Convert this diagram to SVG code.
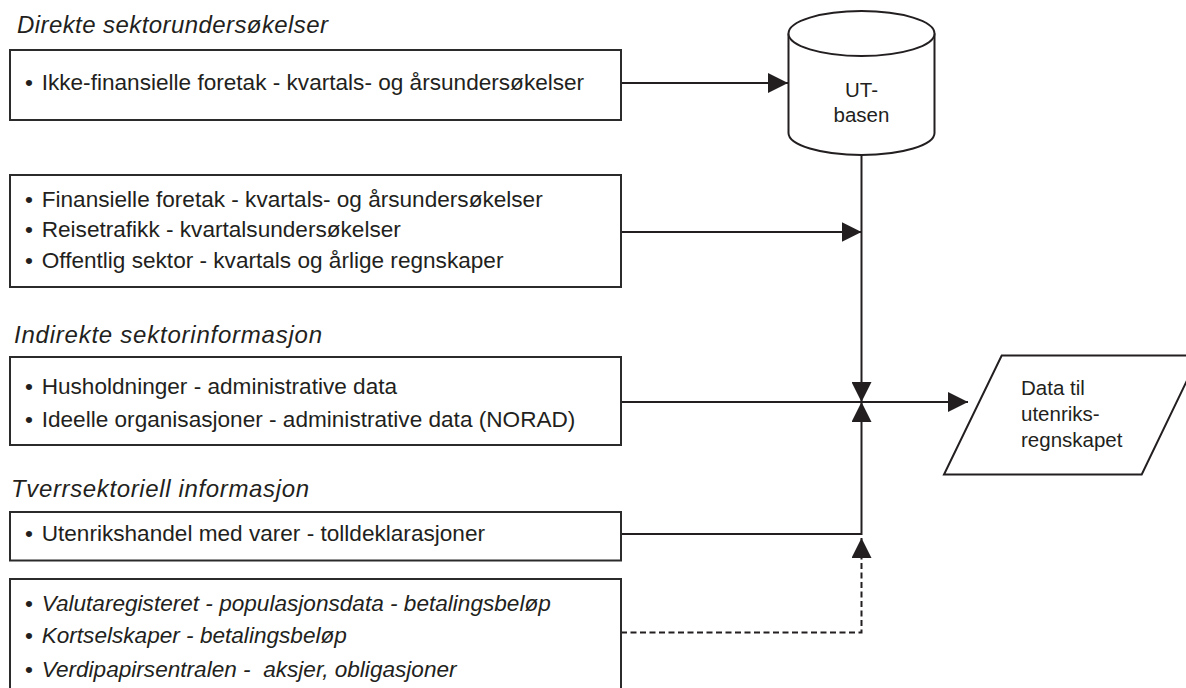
<svg xmlns="http://www.w3.org/2000/svg" width="1186" height="688" viewBox="0 0 1186 688">
<style>
.box{fill:#fff;stroke:#2b2b2b;stroke-width:2}
.shape{fill:#fff;stroke:#231f20;stroke-width:2}
.t{font-family:"Liberation Sans",Arial,sans-serif;font-size:22.6px;fill:#231f20}
.ti{font-family:"Liberation Sans",Arial,sans-serif;font-size:22.6px;font-style:italic;fill:#231f20}
.h{font-family:"Liberation Sans",Arial,sans-serif;font-size:24px;font-style:italic;fill:#231f20}
.s{font-family:"Liberation Sans",Arial,sans-serif;font-size:20.5px;fill:#231f20}
.ln{fill:none;stroke:#231f20;stroke-width:2}
.dash{stroke-dasharray:6 3.5}
</style>
<defs>
<marker id="ah" viewBox="0 0 20 20" refX="20" refY="10" markerWidth="20" markerHeight="20" markerUnits="userSpaceOnUse" orient="auto">
<path d="M0,0 L20,10 L0,20 Z" fill="#231f20"/>
</marker>
</defs>
<rect width="1186" height="688" fill="#fff"/>

<g id="headings">
<text class="h" x="17" y="33" textLength="311">Direkte sektorundersøkelser</text>
<text class="h" x="14" y="343" textLength="308">Indirekte sektorinformasjon</text>
<text class="h" x="11" y="497" textLength="298">Tverrsektoriell informasjon</text>
</g>

<g id="connectors">
<path class="ln" d="M621,83 H788" marker-end="url(#ah)"/>
<path class="ln" d="M861.5,155 V402" marker-end="url(#ah)"/>
<path class="ln" d="M621,232 H861.5" marker-end="url(#ah)"/>
<path class="ln" d="M621,402 H968" marker-end="url(#ah)"/>
<path class="ln" d="M621,534 H861.5 V402" marker-end="url(#ah)"/>
<path class="ln dash" d="M621,632.5 H861.5 V538" marker-end="url(#ah)"/>
</g>

<g id="box1">
<rect class="box" x="10" y="50" width="611" height="70"/>
<text class="t" x="25" y="90">•</text>
<text class="t" x="41.7" y="90">Ikke-finansielle foretak - kvartals- og årsundersøkelser</text>
</g>

<g id="box2">
<rect class="box" x="10" y="175" width="611" height="112"/>
<text class="t" x="25" y="206.7">•</text>
<text class="t" x="41.7" y="206.7">Finansielle foretak - kvartals- og årsundersøkelser</text>
<text class="t" x="25" y="237.3">•</text>
<text class="t" x="41.7" y="237.3">Reisetrafikk - kvartalsundersøkelser</text>
<text class="t" x="25" y="268.3">•</text>
<text class="t" x="41.7" y="268.3">Offentlig sektor - kvartals og årlige regnskaper</text>
</g>

<g id="box3">
<rect class="box" x="10" y="357" width="611" height="88"/>
<text class="t" x="25" y="394">•</text>
<text class="t" x="41.7" y="394">Husholdninger - administrative data</text>
<text class="t" x="25" y="426.5">•</text>
<text class="t" x="41.7" y="426.5">Ideelle organisasjoner - administrative data (NORAD)</text>
</g>

<g id="box4">
<rect class="box" x="10" y="512" width="611" height="48.5"/>
<text class="t" x="25" y="541">•</text>
<text class="t" x="41.7" y="541">Utenrikshandel med varer - tolldeklarasjoner</text>
</g>

<g id="box5">
<rect class="box" x="10" y="579" width="611" height="130"/>
<text class="t" x="25" y="611">•</text>
<text class="ti" x="41.7" y="611">Valutaregisteret - populasjonsdata - betalingsbeløp</text>
<text class="t" x="25" y="643">•</text>
<text class="ti" x="41.7" y="643">Kortselskaper - betalingsbeløp</text>
<text class="t" x="25" y="677">•</text>
<text class="ti" x="41.7" y="677" xml:space="preserve">Verdipapirsentralen -  aksjer, obligasjoner</text>
</g>

<g id="utbasen">
<path class="shape" d="M788.5,33.5 V133 A73,22 0 0 0 934.5,133 V33.5"/>
<ellipse class="shape" cx="861.5" cy="33.5" rx="73" ry="22.5"/>
<text class="s" x="861.5" y="97.3" text-anchor="middle">UT-</text>
<text class="s" x="861.5" y="122.3" text-anchor="middle">basen</text>
</g>

<g id="data-til-utenriksregnskapet">
<polygon class="shape" points="1001.7,355.5 1199,355.5 1141.7,474.5 944,474.5"/>
<text class="s" x="1021" y="395">Data til</text>
<text class="s" x="1021" y="421">utenriks-</text>
<text class="s" x="1021" y="447">regnskapet</text>
</g>
</svg>
